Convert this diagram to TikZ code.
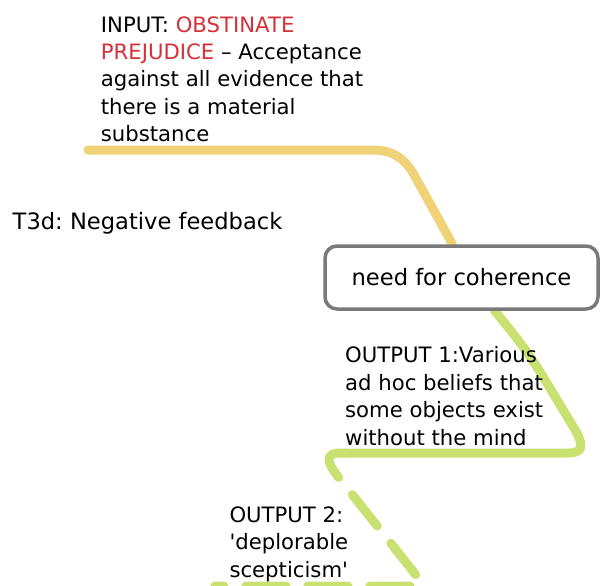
\documentclass[tikz,border=0pt]{standalone}
\usepackage{fontspec}
\setmainfont{DejaVu Sans}
\usepackage{tikz}
\usetikzlibrary{backgrounds}
\frenchspacing
\definecolor{yel}{RGB}{240,210,120}
\definecolor{grn}{RGB}{200,225,112}
\definecolor{redtxt}{RGB}{214,48,56}
\definecolor{boxline}{RGB}{122,122,122}
\tikzstyle{bx}=[shape=rectangle,draw=boxline,line width=3.5pt,rounded corners=12pt,fill=white,minimum width=273pt,minimum height=63pt,inner sep=0pt,font=\fontsize{22.6}{27.4}\selectfont]
\tikzstyle{txt}=[anchor=north west,align=left,inner sep=0pt,font=\fontsize{21.2}{27.4}\selectfont]
\tikzstyle{inp}=[draw=yel,line width=9pt,line cap=round,line join=round]
\tikzstyle{outp}=[draw=grn,line width=9pt,line cap=round,line join=round]
\tikzstyle{outd}=[outp,dash pattern=on 40pt off 22pt]

\begin{document}
\begin{tikzpicture}[x=1pt,y=-1pt]
            \useasboundingbox (0,0) rectangle (600,586);
            \node[txt,font=\fontsize{22.6}{27.4}\selectfont] (title) at (12.5,211.8) {T3d: Negative feedback}
            ;
            \node[txt] (input) at (100.7,16.2) {INPUT: \textcolor{redtxt}{OBSTINATE}\\
                \textcolor{redtxt}{PREJUDICE} – Acceptance\\
                against all evidence that\\
                there is a material\\
                substance}
            ;
            \node[bx] (need) at (461.5,277.5) {need for coherence}
            ;
            \node[txt] (out1) at (345,346.5) {OUTPUT 1:Various\\
                ad hoc beliefs that\\
                some objects exist\\
                without the mind}
            ;
            \node[txt] (out2) at (229.3,506.5) {OUTPUT 2:\\
                \textquotesingle deplorable\\
                scepticism\textquotesingle}
            ;
            % feed lines, kept behind the texts
            \coordinate (inp start) at (88,150);
            \coordinate (turn) at (345,453);
            \coordinate (tail) at (215,586);
            \begin{pgfonlayer}{background}
            \draw[inp] (inp start) -- (372,150) .. controls (392,150) and (403,157) .. (413,173) -- ([xshift=-9pt]need.north);
            \draw[outp] ([xshift=33pt]need.south) .. controls (515,335) and (530,355) .. (545,380) -- (574,428) .. controls (584,445) and (584,453) .. (568,453) -- (turn);
            \draw[outd] (turn) -- (340,453) .. controls (325,453) and (327,462) .. (336,474) -- (412,570) .. controls (422,583) and (426,586) .. (410,586) -- (tail);
            \end{pgfonlayer}
        \end{tikzpicture}
\end{document}
